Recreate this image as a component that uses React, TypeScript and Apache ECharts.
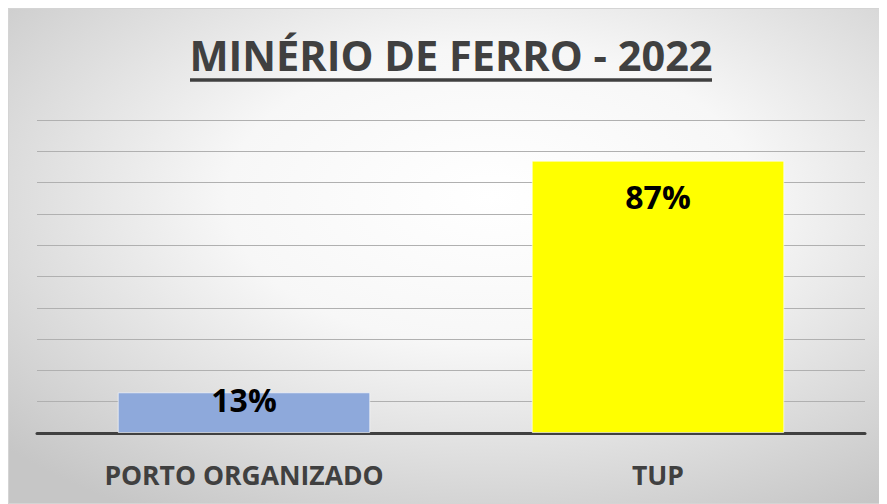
import React, { useEffect, useRef } from "react";
import * as echarts from "echarts";

const categories = ["PORTO ORGANIZADO", "TUP"];
const shares = [13, 87];
const barColors = ["#8EA9DB", "#FFFF00"];
const labelDistances = [-9, 20];
const titleText = "MINÉRIO DE FERRO - 2022";

export default function App() {
  const ref = useRef<HTMLDivElement>(null);
  useEffect(() => {
    if (!ref.current) return;
    const chart = echarts.init(ref.current, null, { renderer: "svg" });
    chart.setOption({
      animation: false,
      backgroundColor: {
        type: "radial",
        x: 0.55,
        y: 0.38,
        r: 0.75,
        colorStops: [
          { offset: 0, color: "#ffffff" },
          { offset: 0.4, color: "#f7f7f7" },
          { offset: 1, color: "#c6c6c6" },
        ],
      },
      graphic: [
        {
          type: "rect",
          shape: { x: 0.5, y: 0.5, width: 878, height: 495 },
          style: { fill: "none", stroke: "#d4d4d4", lineWidth: 1 },
          silent: true,
        },
        {
          type: "text",
          x: 443,
          y: 47,
          style: {
            text: titleText,
            textAlign: "center",
            textVerticalAlign: "middle",
            fill: "#404040",
            font: "bold 41.5px 'Open Sans'",
          },
        },
        {
          type: "line",
          shape: { x1: 182, y1: 72, x2: 704, y2: 72 },
          style: { stroke: "#404040", lineWidth: 3.5 },
        },
      ],
      grid: { left: 29, right: 22, top: 112, bottom: 71, containLabel: false },
      xAxis: {
        type: "category",
        data: categories,
        axisTick: { show: false },
        axisLine: { lineStyle: { color: "#404040", width: 3 } },
        axisLabel: {
          color: "#404040",
          fontFamily: "Open Sans",
          fontWeight: "bold",
          fontSize: 26.5,
          margin: 28,
        },
      },
      yAxis: {
        type: "value",
        min: 0,
        max: 100,
        interval: 10,
        axisLabel: { show: false },
        axisLine: { show: false },
        axisTick: { show: false },
        splitLine: { lineStyle: { color: "#b0b0b0", width: 1 } },
      },
      series: [
        {
          type: "bar",
          barWidth: "61%",
          data: shares.map((v, i) => ({
            value: v,
            itemStyle: { color: barColors[i], borderColor: "rgba(255,255,255,0.6)", borderWidth: 1 },
            label: {
              show: true,
              position: "insideTop",
              distance: labelDistances[i],
              formatter: "{c}%",
              color: "#000000",
              fontFamily: "Open Sans",
              fontWeight: "bold",
              fontSize: 32,
            },
          })),
        },
      ],
    });
    return () => chart.dispose();
  }, []);
  return <div ref={ref} style={{ width: 879, height: 496 }} />;
}
